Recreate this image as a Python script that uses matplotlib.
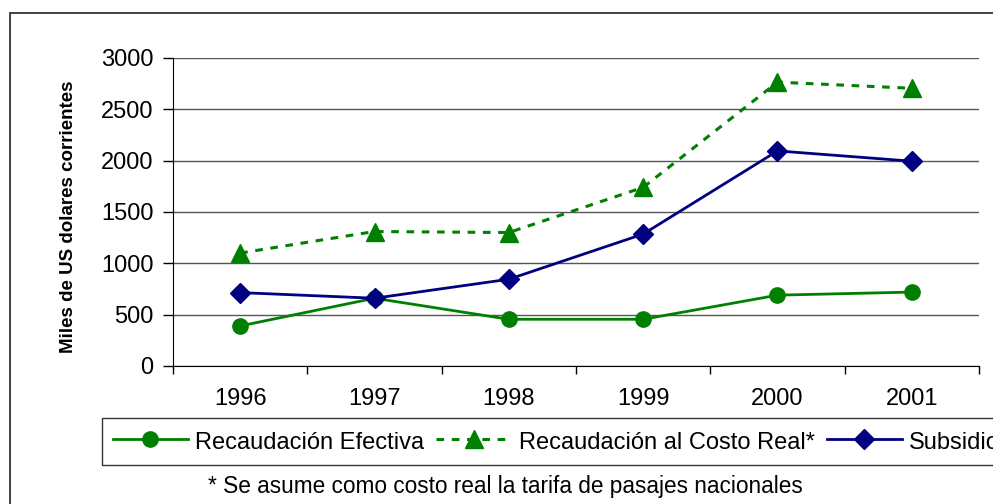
import matplotlib.pyplot as plt
import matplotlib.patches as mpatches
import numpy as np

plt.rcParams['font.family'] = ['Liberation Sans', 'DejaVu Sans']

years = ['1996', '1997', '1998', '1999', '2000', '2001']
recaudacion_efectiva = [390, 660, 455, 455, 690, 720]
recaudacion_costo_real = [1100, 1310, 1300, 1740, 2765, 2705]
subsidio = [715, 660, 845, 1285, 2095, 1995]
y_ticks = [0, 500, 1000, 1500, 2000, 2500, 3000]

green = '#008000'; navy = '#000080'

fig = plt.figure(figsize=(9.93, 5.04), dpi=100)
# outer chart border, runs off the right/bottom edge like the cropped original
fig.patches.append(mpatches.Rectangle((10/993, -0.1), 1.2, 1 - 13/504 + 0.1, transform=fig.transFigure,
                                      fill=False, edgecolor='#333333', linewidth=1.3))
ax = fig.add_axes([173/993, 1 - 366/504, 806/993, 308/504])

x = np.arange(len(years))
l1, = ax.plot(x, recaudacion_efectiva, color=green, lw=2, marker='o', ms=11, label='Recaudación Efectiva')
l2, = ax.plot(x, recaudacion_costo_real, color=green, lw=2.2, ls=(0, (2.5, 2.5)), marker='^', ms=13,
              label='Recaudación al Costo Real*')
l3, = ax.plot(x, subsidio, color=navy, lw=2, marker='D', ms=10, label='Subsidio')

ax.set_xlim(-0.5, len(years) - 0.5)
ax.set_ylim(0, 3000)
ax.set_yticks(y_ticks)
ax.set_xticks(np.arange(-0.5, len(years), 1))
ax.set_xticklabels([])
ax.set_xticks(x, minor=True)
ax.set_xticklabels(years, minor=True)
ax.tick_params(axis='x', which='major', length=6, width=1, direction='out')
ax.tick_params(axis='x', which='minor', length=0, pad=16, labelsize=17)
ax.tick_params(axis='y', length=7, width=1, pad=7, labelsize=17)
ax.grid(True, axis='y', color='#555555', linewidth=1)
ax.set_axisbelow(True)
for s in ['top', 'right']:
    ax.spines[s].set_visible(False)
ax.set_ylabel('Miles de US dolares corrientes', fontsize=13.5, fontweight='bold')
ax.yaxis.set_label_coords((77 - 173) / 806, (366 - 217) / 308)

leg = fig.legend(handles=[l1, l2, l3], loc='upper left', bbox_to_anchor=(102/993, 1 - 418/504),
                 ncol=3, fontsize=17, frameon=True, fancybox=False, edgecolor='black',
                 handlelength=3.2, handleheight=1.3, handletextpad=0.3, columnspacing=0.5,
                 borderpad=0.45, borderaxespad=0)
leg.get_frame().set_linewidth(1)

fig.text(505/993, 1 - 487/504, '* Se asume como costo real la tarifa de pasajes nacionales',
         ha='center', va='center', fontsize=16.3)

fig.savefig('out.png', dpi=100)
